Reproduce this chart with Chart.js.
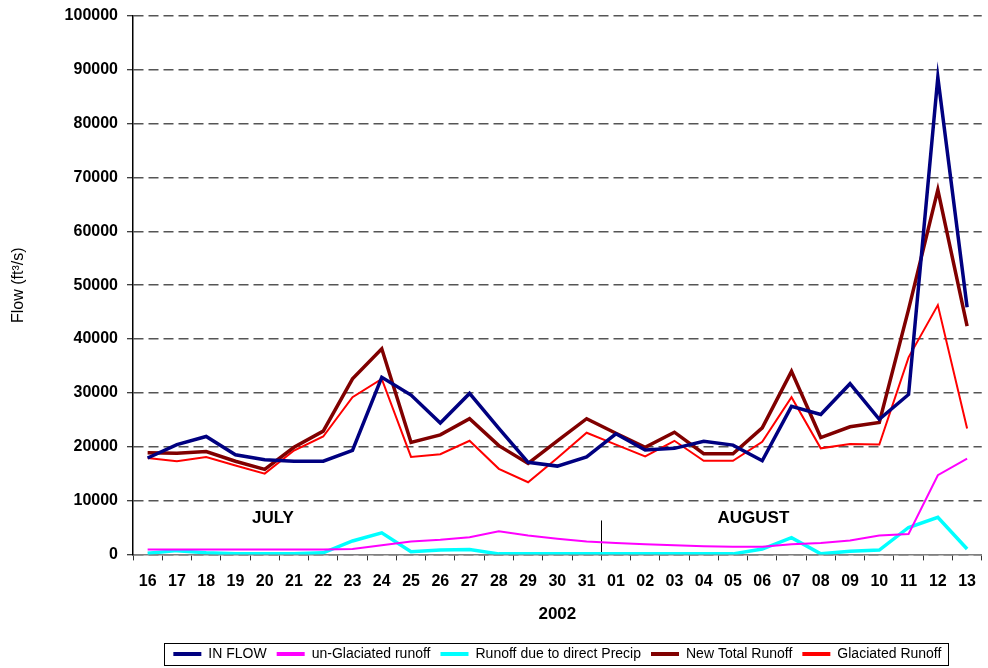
<!DOCTYPE html>
<html>
<head>
<meta charset="utf-8">
<script src="https://cdn.jsdelivr.net/npm/chart.js@4/dist/chart.umd.min.js"></script>
<style>
  html, body { margin: 0; padding: 0; background: #fff; }
  #wrap { width: 988px; height: 668px; position: relative; }
</style>
</head>
<body>
<div id="wrap"><canvas id="c" width="988" height="668"></canvas></div>
<script>
// ---- Data ----
const days = ['16','17','18','19','20','21','22','23','24','25','26','27','28','29','30','31',
              '01','02','03','04','05','06','07','08','09','10','11','12','13'];
const inFlow = [17900,20400,21900,18500,17600,17300,17300,19300,32900,29600,24400,29900,23400,17100,16400,18100,
                22400,19400,19700,21000,20300,17400,27500,26000,31700,25100,29700,88600,45900];
const unGlaciated = [900,900,900,900,900,900,900,1000,1700,2400,2700,3200,4300,3500,2900,2400,
                     2100,1900,1700,1500,1400,1400,1900,2100,2600,3500,3800,14700,17800];
const directPrecip = [200,700,300,100,100,100,300,2500,4000,500,800,900,100,100,100,100,
                      100,100,100,100,100,1000,3100,100,600,800,5000,6900,1000];
const newTotal = [18900,18800,19100,17300,15800,19900,22900,32600,38200,20800,22200,25200,20200,16900,21100,25200,
                  22500,19900,22700,18700,18700,23500,34000,21700,23700,24500,45500,67700,42400];
const glaciated = [17900,17300,18100,16500,15000,19300,21900,29200,32600,18100,18600,21100,15900,13400,17900,22600,
                   20400,18200,21100,17400,17400,20900,29200,19700,20500,20400,36600,46300,23400];
const seriesNames = ['IN FLOW','un-Glaciated runoff','Runoff due to direct Precip','New Total Runoff','Glaciated Runoff'];
const yTicks = [0,10000,20000,30000,40000,50000,60000,70000,80000,90000,100000];
const monthLabels = ['JULY','AUGUST'];
const yearLabel = '2002';

const FONT = "'Liberation Sans', Arial, Helvetica, sans-serif";

function ds(label, data, color, width) {
  return { label, data, borderColor: color, backgroundColor: color, borderWidth: width,
           pointRadius: 0, pointHoverRadius: 0, tension: 0, fill: false };
}

const annotations = {
  id: 'annotations',
  beforeDatasetsDraw(chart) {
    const {ctx, scales: {x, y}} = chart;
    ctx.save();
    // month divider between 31 and 01
    const xd = (x.getPixelForValue(15) + x.getPixelForValue(16)) / 2;
    ctx.strokeStyle = '#000';
    ctx.lineWidth = 1;
    ctx.beginPath();
    ctx.moveTo(Math.round(xd) + 0.5, y.getPixelForValue(6300));
    ctx.lineTo(Math.round(xd) + 0.5, y.getPixelForValue(0));
    ctx.stroke();
    // month labels
    ctx.fillStyle = '#000';
    ctx.font = 'bold 17px ' + FONT;
    ctx.textAlign = 'center';
    ctx.textBaseline = 'middle';
    ctx.fillText(monthLabels[0], x.getPixelForValue(4.28), y.getPixelForValue(6700));
    ctx.fillText(monthLabels[1], x.getPixelForValue(20.7), y.getPixelForValue(6700));
    ctx.restore();
  }
};

const legendBox = {
  id: 'legendBox',
  afterLayout(chart) {
    if (chart.legend) { chart.legend.top += 3; chart.legend.bottom += 3; }
  },
  afterDraw(chart) {
    const lg = chart.legend;
    if (!lg || !lg.legendHitBoxes || !lg.legendHitBoxes.length) return;
    const hb = lg.legendHitBoxes;
    let l = Infinity, r = -Infinity, t = Infinity, b = -Infinity;
    hb.forEach(h => { l = Math.min(l, h.left); r = Math.max(r, h.left + h.width);
                      t = Math.min(t, h.top); b = Math.max(b, h.top + h.height); });
    const ctx = chart.ctx;
    ctx.save();
    ctx.strokeStyle = '#000';
    ctx.lineWidth = 1;
    ctx.strokeRect(Math.round(l - 9) + 0.5, Math.round(t - 4) + 0.5, Math.round(r - l + 16), Math.round(b - t + 8));
    ctx.restore();
  }
};

new Chart(document.getElementById('c'), {
  type: 'line',
  data: {
    labels: days,
    datasets: [
      ds(seriesNames[0], inFlow, '#000080', 3.5),
      ds(seriesNames[1], unGlaciated, '#FF00FF', 2),
      ds(seriesNames[2], directPrecip, '#00FFFF', 3.5),
      ds(seriesNames[3], newTotal, '#800000', 3.5),
      ds(seriesNames[4], glaciated, '#FF0000', 2)
    ]
  },
  options: {
    responsive: false,
    animation: false,
    devicePixelRatio: 1,
    layout: { padding: { top: 16, right: 0, bottom: 0, left: 0 } },
    plugins: {
      tooltip: { enabled: false },
      legend: {
        position: 'bottom',
        fullSize: false,
        labels: {
          color: '#000',
          font: { family: FONT, size: 14 },
          boxWidth: 28,
          boxHeight: 4,
          padding: 10,
          generateLabels(chart) {
            return chart.data.datasets.map((d, i) => ({
              text: d.label, fillStyle: d.borderColor, strokeStyle: d.borderColor,
              lineWidth: 0, hidden: false, datasetIndex: i, fontColor: '#000'
            }));
          }
        }
      }
    },
    scales: {
      x: {
        type: 'category',
        offset: true,
        grid: { display: true, drawOnChartArea: false, offset: true, drawTicks: true,
                tickLength: 6, tickColor: '#333', tickWidth: 1 },
        border: { display: true, color: '#808080', width: 1.5 },
        ticks: { color: '#000', font: { family: FONT, size: 16, weight: 'bold' },
                 autoSkip: false, maxRotation: 0, padding: 12 },
        title: { display: true, text: yearLabel, color: '#000',
                 font: { family: FONT, size: 17, weight: 'bold' },
                 padding: { top: 1, bottom: 9 } }
      },
      y: {
        min: 0, max: 100000,
        afterFit(scale) { scale.width = 133; scale.paddingTop = 0; scale.paddingBottom = 0; },
        afterBuildTicks(scale) { scale.ticks = yTicks.map(v => ({ value: v })); },
        grid: { color: '#555', lineWidth: 1.5, drawTicks: true, tickLength: 6,
                tickColor: '#000', tickWidth: 1, tickBorderDash: [] },
        border: { display: true, color: '#000', width: 1.5, dash: [10, 5] },
        ticks: { color: '#000', font: { family: FONT, size: 16, weight: 'bold' },
                 padding: 9, callback: v => String(v) },
        title: { display: true, text: 'Flow (ft³/s)', color: '#000',
                 font: { family: FONT, size: 16 }, padding: { top: 9, bottom: 0 } }
      }
    }
  },
  plugins: [annotations, legendBox]
});
</script>
</body>
</html>
